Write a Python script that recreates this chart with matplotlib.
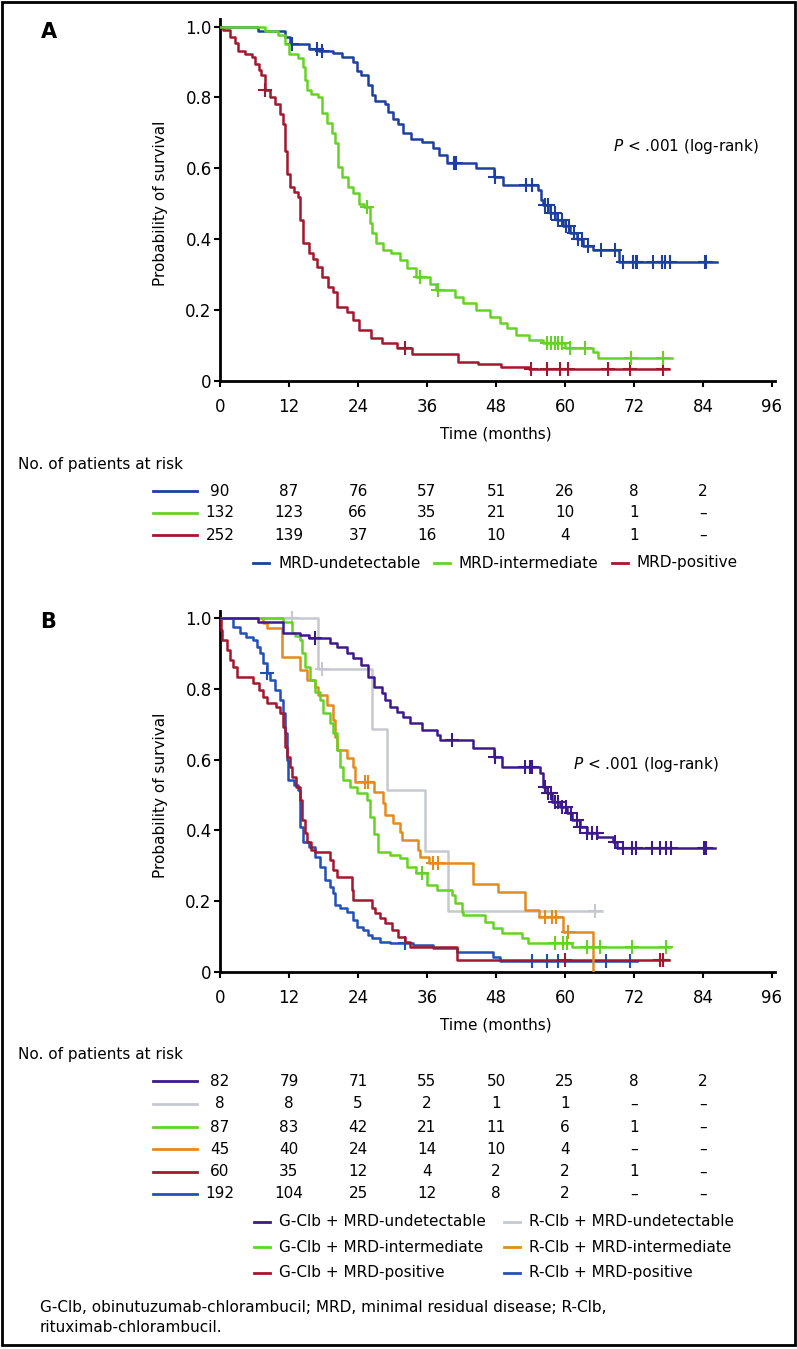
import numpy as np
import matplotlib
matplotlib.use('Agg')
import matplotlib.pyplot as plt
import matplotlib.transforms as mtransforms
from matplotlib.lines import Line2D
from matplotlib.patches import Rectangle

W, H = 797, 1349

# ---------------- panel A: curves (time in months, survival after step) ----------------
a_undet_t = [0, 6.6, 11.3, 12.2, 15.5, 17.2, 19.7, 21.2, 23.2, 23.8, 24.6, 25.8, 26.4, 27.0, 28.7, 29.3,
             30.1, 31.0, 31.9, 33.3, 35.1, 37.1, 38.0, 39.4, 44.6, 47.6, 49.3, 55.3, 55.9, 56.2, 57.4,
             58.6, 59.7, 60.9, 62.0, 63.2, 64.9, 69.4]
a_undet_s = [1.0, 0.986, 0.97, 0.952, 0.937, 0.93, 0.924, 0.915, 0.90, 0.874, 0.862, 0.834, 0.806, 0.79,
             0.78, 0.76, 0.74, 0.725, 0.70, 0.684, 0.674, 0.656, 0.637, 0.614, 0.60, 0.575, 0.552, 0.538,
             0.51, 0.496, 0.473, 0.455, 0.437, 0.418, 0.40, 0.38, 0.37, 0.336]
a_undet_end = 86.4
a_undet_cens = [12.5, 16.8, 17.7, 40.7, 41.0, 47.8, 53.3, 54.2, 56.5, 57.0, 57.6, 58.2, 58.8, 59.4, 60.2,
                60.7, 61.5, 62.3, 63.0, 64.0, 66.3, 68.7, 70.0, 71.8, 72.3, 72.6, 75.3, 76.8, 77.4, 78.3,
                84.3, 84.6]

a_inter_t = [0, 7.8, 10.1, 11.3, 12.0, 13.6, 14.5, 14.8, 15.1, 15.9, 17.1, 17.7, 18.6, 19.4, 20.0, 20.6,
             21.2, 22.3, 23.2, 24.1, 25.0, 26.1, 26.4, 27.2, 28.4, 29.8, 31.3, 32.5, 34.0, 36.5, 37.5,
             40.9, 42.3, 44.6, 47.0, 48.7, 49.9, 51.5, 53.8, 56.2, 60.0, 64.8, 65.8]
a_inter_s = [1.0, 0.987, 0.975, 0.95, 0.923, 0.91, 0.885, 0.85, 0.82, 0.81, 0.80, 0.755, 0.727, 0.70, 0.67,
             0.604, 0.575, 0.547, 0.53, 0.50, 0.49, 0.445, 0.417, 0.39, 0.37, 0.36, 0.34, 0.32, 0.293,
             0.275, 0.256, 0.237, 0.22, 0.20, 0.18, 0.163, 0.15, 0.13, 0.115, 0.108, 0.093, 0.082, 0.065]
a_inter_end = 78.6
a_inter_cens = [25.5, 34.8, 37.9, 56.8, 57.5, 58.2, 58.8, 59.4, 60.8, 63.5, 71.5, 77.0]

a_pos_t = [0, 0.6, 1.7, 2.6, 3.2, 4.3, 5.5, 6.1, 6.7, 7.2, 7.8, 8.7, 9.6, 10.4, 11.0, 11.3, 11.6, 12.2,
           12.8, 13.6, 13.9, 14.5, 15.4, 16.2, 16.8, 17.7, 18.8, 19.7, 20.3, 22.0, 23.2, 24.1, 26.3,
           28.1, 30.8, 33.4, 41.4, 44.9, 48.9, 53.8]
a_pos_s = [1.0, 0.99, 0.97, 0.953, 0.932, 0.923, 0.913, 0.895, 0.876, 0.862, 0.82, 0.80, 0.782, 0.754,
           0.726, 0.65, 0.585, 0.547, 0.532, 0.519, 0.453, 0.388, 0.36, 0.345, 0.322, 0.294, 0.266, 0.25,
           0.21, 0.196, 0.172, 0.144, 0.12, 0.107, 0.093, 0.076, 0.054, 0.048, 0.04, 0.034]
a_pos_end = 78.1
a_pos_cens = [7.9, 32.1, 54.0, 56.9, 59.1, 60.6, 67.5, 71.3, 77.0]

# ---------------- panel B: curves ----------------
b_g_undet_t = [0, 6.6, 11.0, 13.9, 15.5, 19.1, 20.3, 22.0, 23.2, 24.6, 25.8, 26.7, 28.1, 28.7, 29.6, 30.7,
               31.9, 33.0, 35.1, 37.7, 38.3, 44.0, 47.6, 49.0, 55.6, 56.2, 56.8, 57.7, 59.1, 60.3, 61.2,
               62.6, 63.8, 65.6, 68.4, 69.0]
b_g_undet_s = [1.0, 0.99, 0.957, 0.952, 0.943, 0.93, 0.918, 0.90, 0.887, 0.867, 0.833, 0.805, 0.788, 0.768,
               0.749, 0.735, 0.72, 0.703, 0.684, 0.67, 0.655, 0.633, 0.607, 0.58, 0.562, 0.523, 0.505,
               0.48, 0.466, 0.449, 0.43, 0.41, 0.392, 0.38, 0.367, 0.35]
b_g_undet_end = 86.1
b_g_undet_cens = [16.5, 40.4, 47.8, 53.0, 53.9, 54.2, 56.5, 57.0, 57.6, 58.2, 58.8, 59.5, 60.1, 61.0, 62.0,
                  62.6, 63.8, 64.7, 65.5, 68.7, 70.0, 71.7, 72.3, 75.2, 76.6, 77.5, 78.4, 84.2, 84.6]

b_r_undet_t = [0, 17.1, 26.4, 29.0, 35.6, 39.7]
b_r_undet_s = [1.0, 0.857, 0.686, 0.514, 0.343, 0.171]
b_r_undet_end = 66.4
b_r_undet_cens = [12.5, 17.7, 65.2]

b_g_inter_t = [0, 11.0, 12.5, 13.0, 13.9, 14.2, 14.8, 15.7, 16.5, 17.4, 17.9, 19.1, 19.7, 20.3, 20.9, 21.4,
               22.6, 23.8, 25.5, 26.1, 26.7, 27.5, 29.6, 31.3, 32.5, 34.0, 36.0, 37.7, 40.3, 40.9, 42.1,
               42.3, 46.1, 47.5, 49.0, 52.5, 53.6, 61.2]
b_g_inter_s = [1.0, 0.99, 0.957, 0.95, 0.938, 0.90, 0.862, 0.825, 0.79, 0.768, 0.731, 0.703, 0.675, 0.627,
               0.58, 0.542, 0.523, 0.505, 0.486, 0.438, 0.39, 0.339, 0.331, 0.322, 0.297, 0.28, 0.246,
               0.232, 0.218, 0.195, 0.17, 0.161, 0.141, 0.124, 0.11, 0.096, 0.082, 0.071]
b_g_inter_end = 78.3
b_g_inter_cens = [35.1, 58.2, 59.7, 60.3, 63.8, 66.1, 71.7, 77.5]

b_r_inter_t = [0, 7.5, 8.1, 10.7, 13.9, 15.1, 16.5, 17.1, 18.6, 19.7, 20.0, 20.3, 22.0, 23.2, 23.5, 26.7,
               28.4, 28.7, 30.1, 31.3, 31.6, 34.5, 34.8, 36.3, 44.0, 48.4, 53.0, 55.5, 59.7, 64.9]
b_r_inter_s = [1.0, 0.986, 0.972, 0.891, 0.853, 0.825, 0.805, 0.782, 0.754, 0.712, 0.664, 0.627, 0.604,
               0.58, 0.537, 0.509, 0.477, 0.443, 0.42, 0.396, 0.373, 0.345, 0.325, 0.307, 0.25, 0.227,
               0.175, 0.155, 0.113, 0.0]
b_r_inter_end = 64.9
b_r_inter_cens = [25.2, 25.8, 37.1, 37.9, 56.5, 57.8, 58.4, 60.6]

b_g_pos_t = [0, 0.1, 0.2, 0.3, 1.2, 1.7, 2.3, 2.9, 5.8, 6.7, 7.5, 8.1, 9.8, 10.4, 11.0, 11.3, 11.6, 12.2,
             12.5, 13.3, 13.9, 14.2, 14.8, 15.1, 15.9, 16.5, 19.1, 19.7, 20.3, 22.9, 23.2, 26.4, 27.0,
             27.8, 28.7, 29.9, 31.0, 32.2, 33.0, 41.2]
b_g_pos_s = [1.0, 0.983, 0.967, 0.938, 0.91, 0.881, 0.862, 0.834, 0.816, 0.797, 0.778, 0.759, 0.75, 0.731,
             0.693, 0.636, 0.608, 0.58, 0.552, 0.523, 0.486, 0.429, 0.392, 0.368, 0.345, 0.34, 0.316,
             0.288, 0.269, 0.232, 0.203, 0.18, 0.166, 0.152, 0.138, 0.119, 0.10, 0.086, 0.072, 0.034]
b_g_pos_end = 78.0
b_g_pos_cens = [60.0, 76.6, 77.0]

b_r_pos_t = [0, 2.3, 3.5, 4.6, 5.8, 6.4, 7.0, 7.5, 8.1, 8.7, 9.6, 10.4, 11.0, 11.3, 11.6, 11.9, 12.8,
             13.6, 13.9, 14.5, 15.4, 16.5, 17.4, 18.3, 19.1, 19.7, 20.0, 20.9, 22.0, 23.2, 23.8, 24.9,
             25.8, 26.4, 27.8, 29.6, 33.6, 37.1, 41.2, 47.5, 48.7]
b_r_pos_s = [1.0, 0.975, 0.957, 0.947, 0.938, 0.919, 0.90, 0.872, 0.844, 0.825, 0.797, 0.768, 0.731,
             0.675, 0.599, 0.542, 0.528, 0.514, 0.41, 0.368, 0.354, 0.326, 0.297, 0.26, 0.241, 0.222,
             0.189, 0.18, 0.17, 0.147, 0.128, 0.119, 0.105, 0.095, 0.086, 0.081, 0.076, 0.067, 0.057,
             0.043, 0.031]
b_r_pos_end = 72.5
b_r_pos_cens = [8.1, 32.2, 54.2, 56.8, 58.8, 67.2, 71.3]

# ---------------- risk tables ----------------
risk_months = [0, 12, 24, 36, 48, 60, 72, 84]
risk_a_undet = ['90', '87', '76', '57', '51', '26', '8', '2']
risk_a_inter = ['132', '123', '66', '35', '21', '10', '1', '–']
risk_a_pos = ['252', '139', '37', '16', '10', '4', '1', '–']

risk_b_g_undet = ['82', '79', '71', '55', '50', '25', '8', '2']
risk_b_r_undet = ['8', '8', '5', '2', '1', '1', '–', '–']
risk_b_g_inter = ['87', '83', '42', '21', '11', '6', '1', '–']
risk_b_r_inter = ['45', '40', '24', '14', '10', '4', '–', '–']
risk_b_g_pos = ['60', '35', '12', '4', '2', '2', '1', '–']
risk_b_r_pos = ['192', '104', '25', '12', '8', '2', '–', '–']

labels_a = ['MRD-undetectable', 'MRD-intermediate', 'MRD-positive']
labels_b = ['G-Clb + MRD-undetectable', 'R-Clb + MRD-undetectable',
            'G-Clb + MRD-intermediate', 'R-Clb + MRD-intermediate',
            'G-Clb + MRD-positive', 'R-Clb + MRD-positive']

c_blue = '#1d3f9f'
c_green = '#66d226'
c_red = '#a3172f'
c_purple = '#3c1a8e'
c_gray = '#c5c9cf'
c_orange = '#e38b1f'
c_blue2 = '#2150b8'

FS = 11


def fx(px):
    return px / W


def fy(py):
    return 1 - py / H


def draw_km(ax, t, s, t_end, cens, color, z):
    tt = list(t) + [t_end]
    ss = list(s) + [s[-1]]
    ax.step(tt, ss, where='post', color=color, lw=1.8, zorder=z)
    idx = np.searchsorted(t, cens, side='right') - 1
    cy = [s[i] for i in idx]
    ax.plot(cens, cy, ls='none', marker='+', ms=9.5, mew=1.5, color=color, zorder=z)


def setup_axes(ax):
    ax.set_xlim(0, 96.5)
    ax.set_ylim(0, 1.02)
    ax.set_xticks(np.arange(0, 97, 12))
    ax.set_yticks([0, 0.2, 0.4, 0.6, 0.8, 1.0])
    ax.set_yticklabels(['0', '0.2', '0.4', '0.6', '0.8', '1.0'])
    for side in ['top', 'right']:
        ax.spines[side].set_visible(False)
    for side in ['left', 'bottom']:
        ax.spines[side].set_linewidth(2)
    ax.tick_params(axis='both', length=4.5, width=1.5, labelsize=12)
    ax.tick_params(axis='x', pad=8)
    ax.tick_params(axis='y', pad=1.5)
    ax.patch.set_visible(False)


def risk_table(ax, rows, colors, ys):
    trans = mtransforms.blended_transform_factory(ax.transData, fig.transFigure)
    for row, col, y in zip(rows, colors, ys):
        fig.add_artist(Line2D([fx(153), fx(197)], [fy(y), fy(y)], color=col, lw=2))
        for m, v in zip(risk_months, row):
            ax.text(m, fy(y), v, transform=trans, ha='center', va='center', fontsize=FS, clip_on=False)


def legend_row(items, y):
    for x0, label, col in items:
        fig.add_artist(Line2D([fx(x0), fx(x0 + 16)], [fy(y), fy(y)], color=col, lw=2))
        fig.text(fx(x0 + 25), fy(y), label, ha='left', va='center', fontsize=FS)


fig = plt.figure(figsize=(W / 100, H / 100), dpi=100)

# ---------- panel A ----------
axA = fig.add_axes([fx(220), fy(381), 5.75 * 96.5 / W, 354.5 * 1.02 / H])
setup_axes(axA)
draw_km(axA, a_undet_t, a_undet_s, a_undet_end, a_undet_cens, c_blue, 2)
draw_km(axA, a_pos_t, a_pos_s, a_pos_end, a_pos_cens, c_red, 2)
draw_km(axA, a_inter_t, a_inter_s, a_inter_end, a_inter_cens, c_green, 3)
fig.text(fx(613), fy(147), r'$\mathit{P}$ < .001 (log-rank)', ha='left', va='center', fontsize=FS)
fig.text(fx(49), fy(32), 'A', fontsize=15, fontweight='bold', ha='center', va='center')
fig.text(fx(160), fy(203), 'Probability of survival', rotation=90, ha='center', va='center', fontsize=FS)
fig.text(fx(496), fy(434), 'Time (months)', ha='center', va='center', fontsize=FS)
fig.text(fx(18), fy(465), 'No. of patients at risk', ha='left', va='center', fontsize=FS)
risk_table(axA, [risk_a_undet, risk_a_inter, risk_a_pos], [c_blue, c_green, c_red], [491, 513, 535])
legend_row([(253, labels_a[0], c_blue), (434, labels_a[1], c_green), (612, labels_a[2], c_red)], 563)

# ---------- panel B ----------
axB = fig.add_axes([fx(220), fy(972), 5.75 * 96.5 / W, 354 * 1.02 / H])
setup_axes(axB)
draw_km(axB, b_r_undet_t, b_r_undet_s, b_r_undet_end, b_r_undet_cens, c_gray, 1)
draw_km(axB, b_r_pos_t, b_r_pos_s, b_r_pos_end, b_r_pos_cens, c_blue2, 2)
draw_km(axB, b_g_pos_t, b_g_pos_s, b_g_pos_end, b_g_pos_cens, c_red, 3)
draw_km(axB, b_r_inter_t, b_r_inter_s, b_r_inter_end, b_r_inter_cens, c_orange, 3)
draw_km(axB, b_g_inter_t, b_g_inter_s, b_g_inter_end, b_g_inter_cens, c_green, 4)
draw_km(axB, b_g_undet_t, b_g_undet_s, b_g_undet_end, b_g_undet_cens, c_purple, 5)
fig.text(fx(573), fy(765), r'$\mathit{P}$ < .001 (log-rank)', ha='left', va='center', fontsize=FS)
fig.text(fx(48), fy(622), 'B', fontsize=15, fontweight='bold', ha='center', va='center')
fig.text(fx(160), fy(795), 'Probability of survival', rotation=90, ha='center', va='center', fontsize=FS)
fig.text(fx(496), fy(1025), 'Time (months)', ha='center', va='center', fontsize=FS)
fig.text(fx(18), fy(1055), 'No. of patients at risk', ha='left', va='center', fontsize=FS)
risk_table(axB, [risk_b_g_undet, risk_b_r_undet, risk_b_g_inter, risk_b_r_inter, risk_b_g_pos, risk_b_r_pos],
           [c_purple, c_gray, c_green, c_orange, c_red, c_blue2],
           [1081, 1104, 1127, 1149, 1172, 1194])
legend_row([(254, labels_b[0], c_purple), (504, labels_b[1], c_gray)], 1222)
legend_row([(254, labels_b[2], c_green), (504, labels_b[3], c_orange)], 1247)
legend_row([(254, labels_b[4], c_red), (504, labels_b[5], c_blue2)], 1273)

fig.text(fx(40), fy(1307), 'G-Clb, obinutuzumab-chlorambucil; MRD, minimal residual disease; R-Clb,',
         ha='left', va='center', fontsize=FS)
fig.text(fx(40), fy(1328), 'rituximab-chlorambucil.', ha='left', va='center', fontsize=FS)

# outer frame
fig.add_artist(Rectangle((fx(2), fy(1345)), fx(792.5), 1343 / H, transform=fig.transFigure,
                         fill=False, edgecolor='black', lw=2))

fig.savefig('out.png', dpi=100)
